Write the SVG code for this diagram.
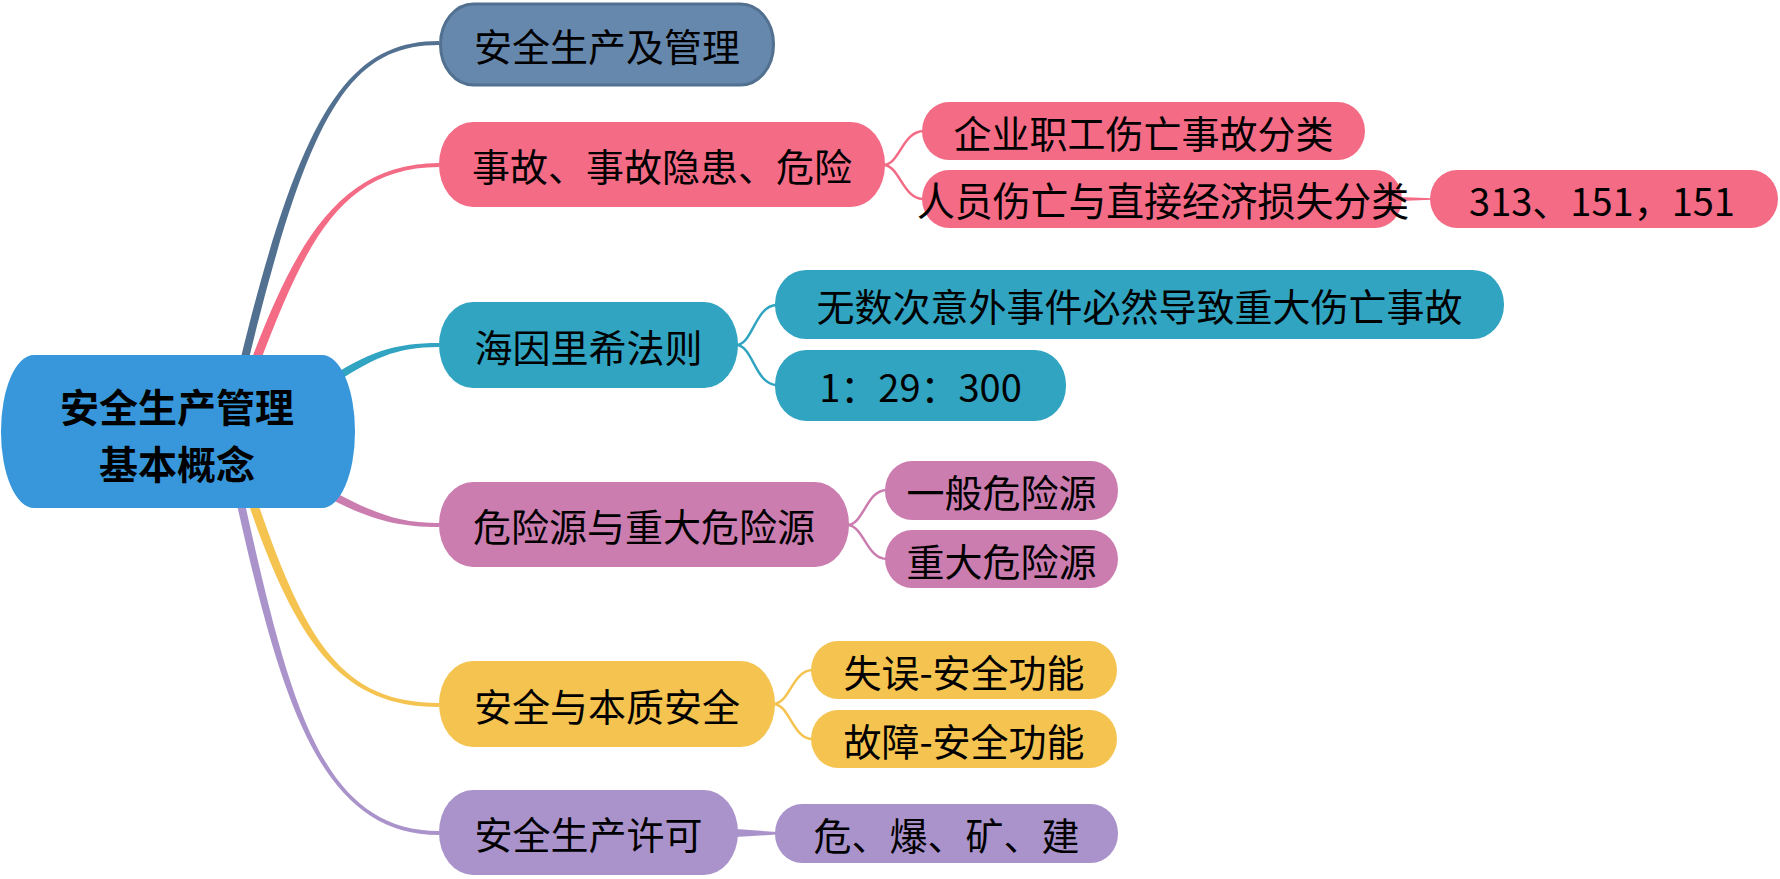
<svg xmlns="http://www.w3.org/2000/svg" width="1780" height="879" viewBox="0 0 1780 879">
<style>
text{font-family:"Noto Sans CJK SC","Noto Sans",sans-serif;font-size:38px;fill:#000;text-anchor:middle;dominant-baseline:central}
.root text{font-size:39px;font-weight:bold}
.blue{fill:#6788AD;stroke:#52708F;stroke-width:3}
.pink{fill:#F46B85}
.teal{fill:#30A4C1}
.mauve{fill:#CB7DAF}
.yellow{fill:#F4C350}
.lav{fill:#AA93CB}
.c{fill:none;stroke-width:2.5;stroke-linecap:round}
</style>
<g id="connectors">
<path fill="#52708F" d="M240.1,361.1 C301.1,109.1 350,41 439,41 L439,45 C350,45 308.9,110.9 247.9,362.9 Z"/>
<path fill="#F46B85" d="M251.8,358.4 C295.8,243.4 340,163 439,163 L439,167 C340,167 304.2,246.6 260.2,361.6 Z"/>
<path fill="#30A4C1" d="M322.8,381.7 C367.8,351.7 395,343 439,343 L439,347 C395,347 372.2,358.3 327.2,388.3 Z"/>
<path fill="#CB7DAF" d="M326.8,488.4 C371.8,511.4 395,523 439,523 L439,527 C395,527 368.2,518.6 323.2,495.6 Z"/>
<path fill="#F4C350" d="M256.3,498.5 C304.3,638.5 340,703 439,703 L439,707 C340,707 295.7,641.5 247.7,501.5 Z"/>
<path fill="#AA93CB" d="M243.9,499.1 C288.9,699.1 320,831 439,831 L439,835 C320,835 281.1,700.9 236.1,500.9 Z"/>
<path class="c" stroke="#F46B85" d="M883,165 C900,165 902,131 924,131"/>
<path class="c" stroke="#F46B85" d="M883,165 C900,165 902,199 924,199"/>
<polygon fill="#F46B85" points="1400,197 1432,198.2 1432,199.8 1400,201"/>
<path class="c" stroke="#30A4C1" d="M736,345 C753,345 755,305 777,305"/>
<path class="c" stroke="#30A4C1" d="M736,345 C753,345 755,385 777,385"/>
<path class="c" stroke="#CB7DAF" d="M847,525 C864,525 866,490 887,490"/>
<path class="c" stroke="#CB7DAF" d="M847,525 C864,525 866,559 887,559"/>
<path class="c" stroke="#F4C350" d="M773,704 C790,704 792,670 813,670"/>
<path class="c" stroke="#F4C350" d="M773,704 C790,704 792,739 813,739"/>
<polygon fill="#AA93CB" points="736,829 777,832 777,834.5 736,837"/>
</g>
<g id="root" class="root">
<rect x="1" y="355" width="354" height="153" rx="33" ry="76" fill="#3797DA"/>
<text x="177" y="405"><tspan x="177" y="405">安全生产管理</tspan><tspan x="177" y="461.5">基本概念</tspan></text>
</g>
<g id="n1"><rect class="blue" x="440.5" y="4" width="333" height="81" rx="33" ry="40"/><text x="607" y="44">安全生产及管理</text></g>
<g id="n2"><rect class="pink" x="439" y="122" width="446" height="85" rx="34" ry="42"/><text x="662" y="164.5">事故、事故隐患、危险</text></g>
<g id="n3"><rect class="teal" x="439" y="302" width="299" height="86" rx="34" ry="43"/><text x="588.5" y="345">海因里希法则</text></g>
<g id="n4"><rect class="mauve" x="439" y="482" width="410" height="85" rx="34" ry="42"/><text x="644" y="524.5">危险源与重大危险源</text></g>
<g id="n5"><rect class="yellow" x="439" y="661" width="336" height="86" rx="34" ry="43"/><text x="607" y="704">安全与本质安全</text></g>
<g id="n6"><rect class="lav" x="439" y="790" width="299" height="85" rx="34" ry="42"/><text x="588.5" y="832.5">安全生产许可</text></g>
<g id="n2a"><rect class="pink" x="922" y="102" width="443" height="58" rx="27" ry="29"/><text x="1143.5" y="131">企业职工伤亡事故分类</text></g>
<g id="n2b"><rect class="pink" x="922" y="170" width="480" height="58" rx="27" ry="29"/><text x="1163" y="199" style="font-size:40px" textLength="492" lengthAdjust="spacingAndGlyphs">人员伤亡与直接经济损失分类</text></g>
<g id="n2b1"><rect class="pink" x="1430" y="170" width="348" height="58" rx="27" ry="29"/><text x="1602" y="199">313、151，151</text></g>
<g id="n3a"><rect class="teal" x="775" y="270" width="729" height="69" rx="31" ry="34"/><text x="1139.5" y="304.5">无数次意外事件必然导致重大伤亡事故</text></g>
<g id="n3b"><rect class="teal" x="775" y="350" width="291" height="71" rx="31" ry="35"/><text x="920.5" y="385.5">1：29：300</text></g>
<g id="n4a"><rect class="mauve" x="885" y="461" width="233" height="59" rx="27" ry="29"/><text x="1001.5" y="490.5">一般危险源</text></g>
<g id="n4b"><rect class="mauve" x="885" y="530" width="233" height="58" rx="27" ry="29"/><text x="1001.5" y="559">重大危险源</text></g>
<g id="n5a"><rect class="yellow" x="811" y="641" width="306" height="58" rx="27" ry="29"/><text x="964" y="670">失误-安全功能</text></g>
<g id="n5b"><rect class="yellow" x="811" y="710" width="306" height="58" rx="27" ry="29"/><text x="964" y="739">故障-安全功能</text></g>
<g id="n6a"><rect class="lav" x="775" y="804" width="343" height="59" rx="27" ry="29"/><text x="946.5" y="833.5">危、爆、矿、建</text></g>
</svg>
